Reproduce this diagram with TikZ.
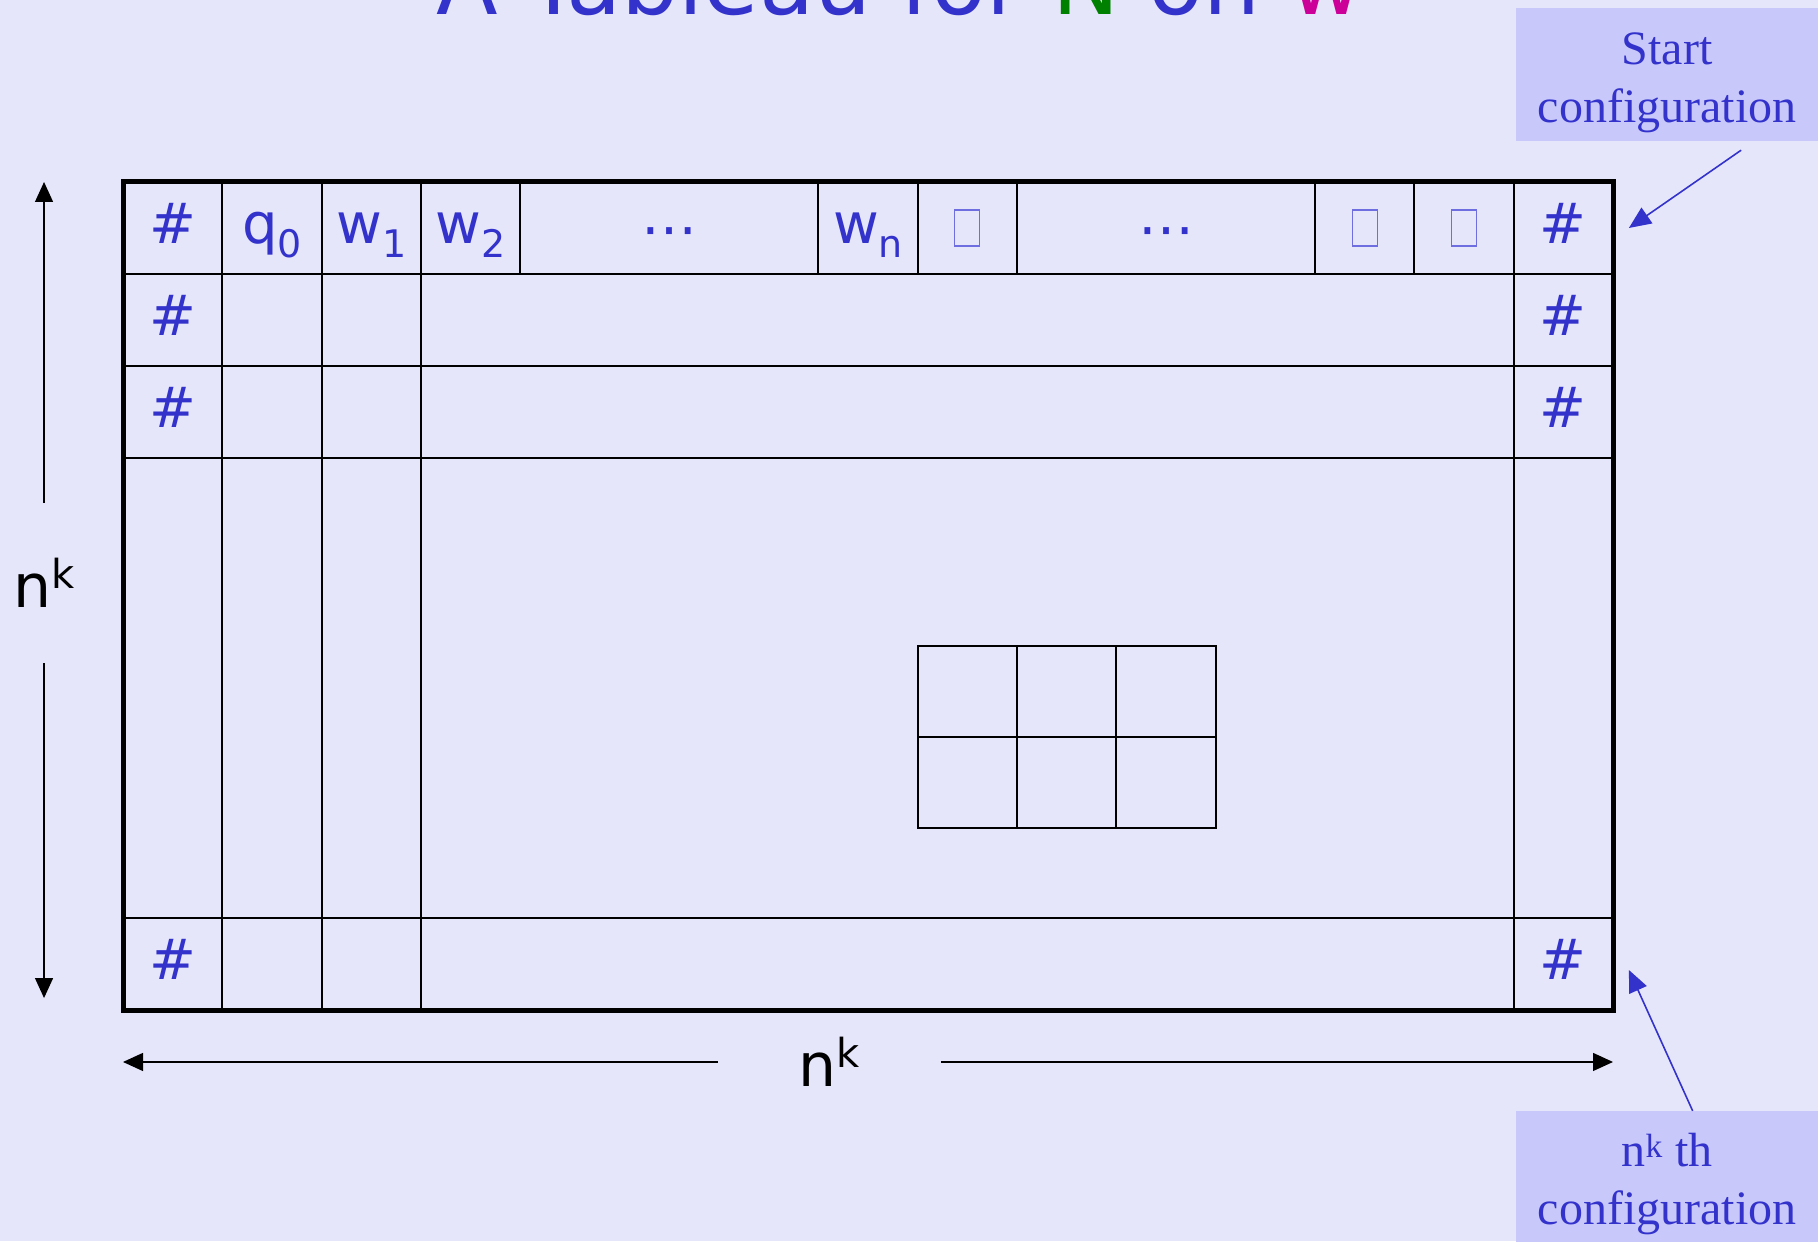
\documentclass[tikz,border=0pt]{standalone}
\usepackage{fontspec}
\setmainfont{Liberation Serif}
\newfontfamily\comicfont{DejaVu Sans}
\usetikzlibrary{arrows.meta}

\definecolor{slidebg}{RGB}{230,230,250}
\definecolor{slideblue}{RGB}{51,51,204}
\definecolor{calloutfill}{RGB}{200,200,250}
\definecolor{blankblue}{RGB}{110,110,225}
\definecolor{titlegreen}{RGB}{0,128,0}
\definecolor{titlemagenta}{RGB}{204,0,153}

\newcommand{\lowidx}[1]{\raisebox{-14pt}{\fontsize{38}{38}\selectfont #1}}
\newcommand{\upidx}[1]{\raisebox{19pt}{\fontsize{40}{40}\selectfont #1}}

\tikzset{
  cellsym/.style={text=slideblue, font=\comicfont\fontsize{56}{60}\selectfont, inner sep=0pt},
  blankbox/.style={draw=blankblue, line width=1.2pt, minimum width=25pt, minimum height=36pt, inner sep=0pt},
  gridline/.style={line width=2pt},
  dimlabel/.style={font=\comicfont\fontsize{60}{60}\selectfont, inner sep=0pt},
  dimarrow/.style={line width=1.3pt, -{Triangle[length=20pt,width=18pt]}},
  callbox/.style={fill=calloutfill, text=slideblue, minimum width=302pt, minimum height=133pt,
    inner sep=0pt, align=center, font=\fontsize{48}{58}\selectfont},
  callarrow/.style={draw=slideblue, line width=1.6pt, -{Triangle[length=22pt,width=19pt]}, slideblue}
}

\begin{document}
\begin{tikzpicture}[x=99.333pt, y=92pt]
  \clip (-1.2383,-2.5109) rectangle (17.0638,10.9783);
  \fill[slidebg] (-1.2383,-2.5109) rectangle (17.0638,10.9783);

  % title, cut by the top edge
  \node[anchor=base, text=slideblue, font=\comicfont\fontsize{90}{90}\selectfont] (title) at (7.817,10.823)
    {A Tableau for {\color{titlegreen}N} on {\color{titlemagenta}w}};

  % the table
  \draw[line width=5pt] (0,0) rectangle (15,9);
  \foreach \x in {1,2,3,14}
    \draw[gridline] (\x,0) -- (\x,9);
  \foreach \y in {1,6,7,8}
    \draw[gridline] (0,\y) -- (15,\y);
  \foreach \x in {4,7,8,9,12,13}
    \draw[gridline] (\x,8) -- (\x,9);

  % small window
  \draw[gridline] (8,1.98) rectangle (11,3.96);
  \draw[gridline] (8,2.97) -- (11,2.97);
  \foreach \x in {9,10}
    \draw[gridline] (\x,1.98) -- (\x,3.96);

  % start configuration
  \foreach \x/\y/\name/\label in {
    1.5/8.42/qzero/q\lowidx{0},
    2.5/8.42/wone/w\lowidx{1},
    3.5/8.42/wtwo/w\lowidx{2},
    5.5/8.39/dotsa/⋯,
    7.5/8.42/wlast/w\lowidx{n},
    10.5/8.39/dotsb/⋯
  }{
    \node[cellsym] (\name) at (\x,\y) {\label};
  }
  \foreach \i in {8,12,13}
    \node[blankbox] (blank\i) at (\i+0.5,8.5) {};

  % border symbols
  \foreach \x/\y/\name in {
    0.5/8.55/hashLa, 0.5/7.55/hashLb, 0.5/6.55/hashLc, 0.5/0.55/hashLd,
    14.5/8.55/hashRa, 14.5/7.55/hashRb, 14.5/6.55/hashRc, 14.5/0.55/hashRd
  }{
    \node[cellsym] (\name) at (\x,\y) {\#};
  }

  % dimensions
  \coordinate (vtop) at (-0.795,9);
  \coordinate (vbot) at (-0.795,0.13);
  \node[dimlabel, minimum height=160pt] (nkleft) at (-0.795,4.64) {n\upidx{k}};
  \draw[dimarrow] (nkleft) -- (vtop);
  \draw[dimarrow] (nkleft) -- (vbot);

  \coordinate (hleft) at (0,-0.565);
  \coordinate (hright) at (15,-0.565);
  \node[dimlabel, minimum width=223pt] (nkbottom) at (7.11,-0.565) {n\upidx{k}};
  \draw[dimarrow] (nkbottom) -- (hleft);
  \draw[dimarrow] (nkbottom) -- (hright);

  % callouts
  \node[callbox] (startcfg) at (15.544,10.1685) {\rule{0pt}{48pt}Start\\configuration};
  \coordinate (startpt) at (15.16,8.5);
  \draw[callarrow] ([yshift=-9pt]startcfg.-42) -- (startpt);

  \node[callbox] (lastcfg) at (15.544,-1.821) {\rule{0pt}{46pt}n\textsuperscript{k} th\\configuration};
  \coordinate (lastpt) at (15.16,0.435);
  \draw[callarrow] (lastcfg.69) -- (lastpt);
\end{tikzpicture}
\end{document}
